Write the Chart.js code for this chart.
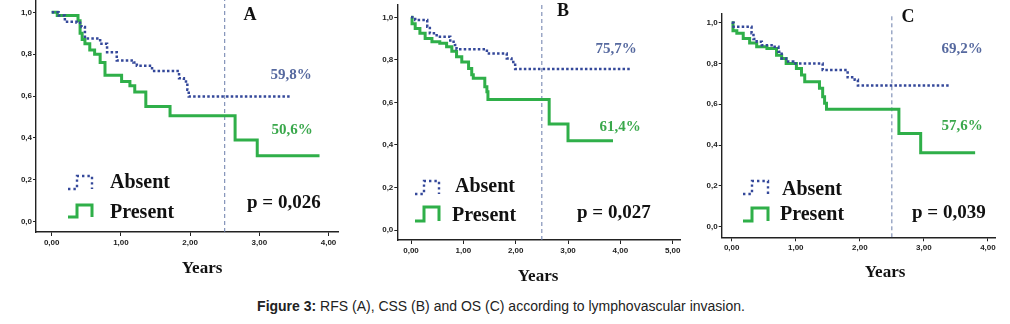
<!DOCTYPE html>
<html>
<head>
<meta charset="utf-8">
<script src="https://cdn.jsdelivr.net/npm/chart.js@4.4.1/dist/chart.umd.min.js"></script>
<style>
  body { margin: 0; background: #fff; width: 1010px; height: 324px; position: relative; overflow: hidden; }
  canvas { position: absolute; top: 0; }
  #caption { position: absolute; left: 0; top: 298px; width: 1002px; text-align: center;
             font: 14px "Liberation Sans", Arial, sans-serif; color: #222; line-height: 16px; }
</style>
</head>
<body>
<canvas id="chartA" width="345" height="290" style="left:0"></canvas>
<canvas id="chartB" width="345" height="290" style="left:345px"></canvas>
<canvas id="chartC" width="320" height="290" style="left:690px"></canvas>
<div id="caption"><b>Figure 3:</b> RFS (A), CSS (B) and OS (C) according to lymphovascular invasion.</div>
<script>
// ---- data ----
const groups = ['Absent', 'Present'];
const yTicks = [0, 0.2, 0.4, 0.6, 0.8, 1.0];
const xTicksA = [0, 1, 2, 3, 4];
const xTicksB = [0, 1, 2, 3, 4, 5];
const xTicksC = [0, 1, 2, 3, 4];
const cutoffYears = 2.5;

// A - RFS
const absentTimesA = [0, 0.10, 0.19, 0.36, 0.43, 0.48, 0.70, 0.80, 0.94, 1.18, 1.23, 1.45, 1.84, 1.91, 1.96, 1.98, 3.45];
const absentSurvA  = [1.0, 0.985, 0.955, 0.95, 0.93, 0.875, 0.85, 0.81, 0.77, 0.76, 0.745, 0.72, 0.685, 0.67, 0.63, 0.598, 0.598];
const presentTimesA = [0, 0.08, 0.38, 0.41, 0.44, 0.48, 0.55, 0.62, 0.70, 0.77, 1.01, 1.13, 1.20, 1.36, 1.71, 2.65, 2.97, 3.87];
const presentSurvA  = [1.0, 0.985, 0.96, 0.90, 0.87, 0.85, 0.82, 0.80, 0.76, 0.70, 0.67, 0.65, 0.62, 0.55, 0.506, 0.39, 0.315, 0.315];

// B - CSS
const absentTimesB = [0, 0.08, 0.31, 0.36, 0.49, 0.75, 0.84, 0.87, 1.45, 1.83, 1.92, 1.99, 4.19];
const absentSurvB  = [1.0, 0.987, 0.956, 0.925, 0.909, 0.885, 0.87, 0.85, 0.83, 0.807, 0.79, 0.757, 0.757];
const presentTimesB = [0, 0.02, 0.08, 0.17, 0.27, 0.40, 0.55, 0.68, 0.78, 0.87, 0.97, 1.10, 1.16, 1.19, 1.41, 1.45, 1.47, 2.64, 3.00, 3.86];
const presentSurvB  = [1.0, 0.97, 0.948, 0.925, 0.90, 0.885, 0.878, 0.862, 0.84, 0.815, 0.79, 0.76, 0.73, 0.713, 0.674, 0.65, 0.614, 0.498, 0.42, 0.42];

// C - OS
const absentTimesC = [0, 0.03, 0.31, 0.34, 0.39, 0.47, 0.67, 0.73, 0.78, 0.85, 0.96, 1.42, 1.81, 1.92, 1.97, 3.39];
const absentSurvC  = [1.0, 0.98, 0.948, 0.92, 0.907, 0.89, 0.882, 0.858, 0.825, 0.81, 0.80, 0.768, 0.732, 0.72, 0.692, 0.692];
const presentTimesC = [0, 0.02, 0.08, 0.18, 0.28, 0.39, 0.55, 0.70, 0.78, 0.85, 1.01, 1.09, 1.14, 1.37, 1.42, 1.45, 1.48, 2.61, 2.95, 3.80];
const presentSurvC  = [1.0, 0.96, 0.948, 0.923, 0.90, 0.882, 0.874, 0.84, 0.825, 0.80, 0.776, 0.743, 0.71, 0.678, 0.637, 0.605, 0.576, 0.457, 0.363, 0.363];

const panelLetters = ['A', 'B', 'C'];
const absentPctLabels = ['59,8%', '75,7%', '69,2%'];
const presentPctLabels = ['50,6%', '61,4%', '57,6%'];
const pValueLabels = ['p = 0,026', 'p = 0,027', 'p = 0,039'];
const xAxisLabel = 'Years';

// ---- styling ----
const BLUE = '#34489a';
const BLUE_TEXT = '#56699f';
const GREEN = '#2faf49';
const GREEN_TEXT = '#3aa84c';
const AXIS = '#222';
const SERIF = '"Liberation Serif", "Times New Roman", serif';
const SANS = '"Liberation Sans", Arial, sans-serif';

function pontos(times, surv) {
    return times.map((t, i) => ({ x: t, y: surv[i] }));
}

function desenharIcone(ctx, ic, cor, tracejado) {
    ctx.save();
    ctx.strokeStyle = cor;
    ctx.lineWidth = tracejado ? 2.4 : 3;
    ctx.setLineDash(tracejado ? [2.4, 3] : []);
    ctx.lineJoin = 'miter';
    ctx.beginPath();
    ctx.moveTo(ic.x0, ic.yb);
    ctx.lineTo(ic.x1, ic.yb);
    ctx.lineTo(ic.x1, ic.yt);
    ctx.lineTo(ic.x2, ic.yt);
    ctx.lineTo(ic.x2, ic.yb);
    ctx.stroke();
    ctx.restore();
}

const kmAnotacoes = {
    id: 'kmAnotacoes',
    afterDraw(chart, args, o) {
        const ctx = chart.ctx;
        ctx.save();
        ctx.textBaseline = 'middle';

        ctx.fillStyle = '#111';
        ctx.textAlign = 'center';
        ctx.font = 'bold 18px ' + SERIF;
        ctx.fillText(o.letter, o.letterPos[0], o.letterPos[1]);

        ctx.font = 'bold 15px ' + SERIF;
        ctx.fillStyle = BLUE_TEXT;
        ctx.fillText(o.absentPct, o.absentPctPos[0], o.absentPctPos[1]);
        ctx.fillStyle = GREEN_TEXT;
        ctx.fillText(o.presentPct, o.presentPctPos[0], o.presentPctPos[1]);

        ctx.fillStyle = '#111';
        ctx.font = 'bold 17px ' + SERIF;
        ctx.fillText(xAxisLabel, o.yearsPos[0], o.yearsPos[1]);

        ctx.textAlign = 'left';
        ctx.font = 'bold 20px ' + SERIF;
        ctx.fillText(groups[0], o.absentTextPos[0], o.absentTextPos[1]);
        ctx.fillText(groups[1], o.presentTextPos[0], o.presentTextPos[1]);
        ctx.font = 'bold 19px ' + SERIF;
        ctx.fillText(o.pValue, o.pPos[0], o.pPos[1]);
        ctx.restore();

        desenharIcone(ctx, o.absentIcon, BLUE, true);
        desenharIcone(ctx, o.presentIcon, GREEN, false);
    }
};

function criarGrafico(id, p) {
    const ctx = document.getElementById(id).getContext('2d');
    return new Chart(ctx, {
        type: 'line',
        data: {
            datasets: [
                {
                    label: groups[0],
                    data: pontos(p.absentTimes, p.absentSurv),
                    stepped: true,
                    borderColor: BLUE,
                    borderWidth: 2.5,
                    borderDash: [2.5, 2.2],
                    pointRadius: 0,
                    fill: false
                },
                {
                    label: groups[1],
                    data: pontos(p.presentTimes, p.presentSurv),
                    stepped: true,
                    borderColor: GREEN,
                    borderWidth: 3,
                    borderJoinStyle: 'miter',
                    pointRadius: 0,
                    fill: false
                },
                {
                    label: 'corte',
                    data: [{ x: cutoffYears, y: p.yMin }, { x: cutoffYears, y: p.yMax }],
                    borderColor: '#6a7daa',
                    borderWidth: 1,
                    borderDash: [4, 3],
                    pointRadius: 0,
                    fill: false
                }
            ]
        },
        options: {
            responsive: false,
            animation: false,
            layout: { padding: { top: p.padTop, right: p.padRight, bottom: 0, left: 0 } },
            plugins: {
                legend: { display: false },
                tooltip: { enabled: false },
                kmAnotacoes: p.notes
            },
            scales: {
                x: {
                    type: 'linear',
                    min: p.xMin,
                    max: p.xMax,
                    afterBuildTicks: s => { s.ticks = p.xTicks.map(v => ({ value: v })); },
                    afterFit: s => {
                        s.height = p.xAxisHeight;
                        s.paddingLeft = 0; s.paddingRight = 0;
                    },
                    ticks: {
                        autoSkip: false,
                        maxRotation: 0,
                        padding: 2,
                        color: AXIS,
                        font: { family: SANS, size: 8, weight: 'bold' },
                        callback: v => v.toFixed(2).replace('.', ',')
                    },
                    grid: { drawOnChartArea: false, tickLength: 4, color: AXIS },
                    border: { color: AXIS, width: 1.4 }
                },
                y: {
                    type: 'linear',
                    min: p.yMin,
                    max: p.yMax,
                    afterBuildTicks: s => { s.ticks = yTicks.map(v => ({ value: v })); },
                    afterFit: s => {
                        s.width = p.yAxisWidth;
                        s.paddingTop = 0; s.paddingBottom = 0;
                    },
                    ticks: {
                        padding: 1,
                        color: AXIS,
                        font: { family: SANS, size: 8, weight: 'bold' },
                        callback: v => v.toFixed(1).replace('.', ',')
                    },
                    grid: { drawOnChartArea: false, tickLength: 3, color: AXIS },
                    border: { color: AXIS, width: 1.4 }
                }
            }
        },
        plugins: [kmAnotacoes]
    });
}

criarGrafico('chartA', {
    absentTimes: absentTimesA, absentSurv: absentSurvA,
    presentTimes: presentTimesA, presentSurv: presentSurvA,
    xTicks: xTicksA, xMin: -0.227, xMax: 4.137, yMin: -0.049, yMax: 1.059,
    padTop: 0, padRight: 7, yAxisWidth: 36, xAxisHeight: 58,
    notes: {
        letter: panelLetters[0], letterPos: [250, 15],
        absentPct: absentPctLabels[0], absentPctPos: [291, 75],
        presentPct: presentPctLabels[0], presentPctPos: [292, 130],
        pValue: pValueLabels[0], pPos: [247, 203],
        yearsPos: [202, 269],
        absentTextPos: [110, 183], presentTextPos: [110, 213],
        absentIcon: { x0: 68, x1: 77, x2: 92, yt: 176, yb: 189 },
        presentIcon: { x0: 68, x1: 77, x2: 92, yt: 205, yb: 217 }
    }
});

criarGrafico('chartB', {
    absentTimes: absentTimesB, absentSurv: absentSurvB,
    presentTimes: presentTimesB, presentSurv: presentSurvB,
    xTicks: xTicksB, xMin: -0.262, xMax: 5.14, yMin: -0.047, yMax: 1.058,
    padTop: 5, padRight: 10, yAxisWidth: 52.3, xAxisHeight: 50,
    notes: {
        letter: panelLetters[1], letterPos: [218, 11],
        absentPct: absentPctLabels[1], absentPctPos: [271, 49],
        presentPct: presentPctLabels[1], presentPctPos: [275, 127],
        pValue: pValueLabels[1], pPos: [232, 213],
        yearsPos: [193, 277],
        absentTextPos: [110, 187], presentTextPos: [107, 216],
        absentIcon: { x0: 70, x1: 79, x2: 94, yt: 181, yb: 194 },
        presentIcon: { x0: 70, x1: 79, x2: 94, yt: 207, yb: 221 }
    }
});

criarGrafico('chartC', {
    absentTimes: absentTimesC, absentSurv: absentSurvC,
    presentTimes: presentTimesC, presentSurv: presentSurvC,
    xTicks: xTicksC, xMin: -0.156, xMax: 4.11, yMin: -0.052, yMax: 1.046,
    padTop: 13.3, padRight: 15, yAxisWidth: 31.7, xAxisHeight: 52.7,
    notes: {
        letter: panelLetters[2], letterPos: [218, 17],
        absentPct: absentPctLabels[2], absentPctPos: [272, 49],
        presentPct: presentPctLabels[2], presentPctPos: [272, 126],
        pValue: pValueLabels[2], pPos: [222, 213],
        yearsPos: [195, 273],
        absentTextPos: [92, 190], presentTextPos: [90, 215],
        absentIcon: { x0: 53, x1: 62, x2: 78, yt: 181, yb: 194 },
        presentIcon: { x0: 53, x1: 62, x2: 78, yt: 208, yb: 221 }
    }
});
</script>
</body>
</html>
